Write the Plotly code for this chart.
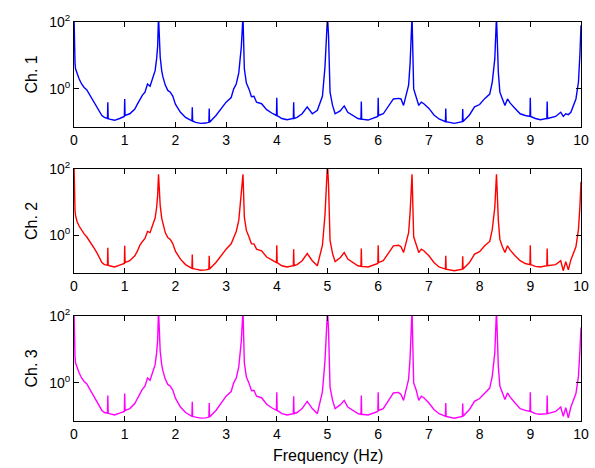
import plotly.graph_objects as go

# Frequency grid (Hz)
freq = [0.000, 0.005, 0.02, 0.03, 0.06, 0.10, 0.15, 0.20, 0.25, 0.30, 0.35, 0.40, 0.45, 0.50, 0.55,
        0.60, 0.660, 0.667, 0.674, 0.70, 0.80, 0.90, 0.993, 1.000, 1.007, 1.10, 1.20, 1.25, 1.30,
        1.35, 1.40, 1.45, 1.50, 1.55, 1.60, 1.63, 1.65, 1.667, 1.68, 1.70, 1.73, 1.75, 1.80, 1.85,
        1.90, 1.95, 2.00, 2.10, 2.20, 2.30, 2.326, 2.333, 2.340, 2.40, 2.50, 2.60, 2.660, 2.667,
        2.674, 2.80, 2.90, 3.00, 3.10, 3.15, 3.20, 3.25, 3.30, 3.333, 3.36, 3.40, 3.45, 3.50, 3.55,
        3.60, 3.70, 3.80, 3.90, 3.993, 4.000, 4.007, 4.10, 4.20, 4.326, 4.333, 4.340, 4.40, 4.50,
        4.60, 4.70, 4.80, 4.90, 4.95, 4.98, 5.00, 5.02, 5.05, 5.10, 5.15, 5.25, 5.33, 5.40, 5.50,
        5.60, 5.660, 5.667, 5.674, 5.80, 5.90, 5.993, 6.000, 6.007, 6.10, 6.20, 6.30, 6.40, 6.45,
        6.50, 6.55, 6.60, 6.63, 6.667, 6.70, 6.75, 6.80, 6.85, 6.90, 7.00, 7.10, 7.20, 7.326, 7.333,
        7.340, 7.50, 7.660, 7.667, 7.674, 7.80, 7.90, 8.00, 8.10, 8.20, 8.25, 8.30, 8.333, 8.37,
        8.40, 8.45, 8.50, 8.55, 8.60, 8.70, 8.80, 8.90, 8.993, 9.000, 9.007, 9.10, 9.20, 9.326,
        9.333, 9.340, 9.50, 9.60, 9.65, 9.70, 9.75, 9.80, 9.90, 9.95, 9.98, 10.00]

ch1 = [150, 15, 6, 4, 2.8, 2.0, 1.4, 1.1, 0.95, 0.7, 0.55, 0.4, 0.3, 0.2, 0.16,
       0.14, 0.13, 0.4, 0.13, 0.125, 0.115, 0.13, 0.15, 0.5, 0.16, 0.18, 0.25, 0.35, 0.5,
       0.65, 0.8, 1.4, 1.2, 2.0, 3.5, 8, 19, 150, 20, 9, 3.5, 2.4, 1.3, 0.9,
       0.8, 0.6, 0.35, 0.2, 0.14, 0.115, 0.11, 0.28, 0.11, 0.1, 0.093, 0.095, 0.1, 0.26,
       0.1, 0.16, 0.25, 0.4, 0.55, 1.0, 1.4, 3.0, 18, 150, 4, 1.5, 1.0, 0.58, 0.6,
       0.4, 0.36, 0.24, 0.19, 0.16, 0.54, 0.16, 0.13, 0.12, 0.13, 0.4, 0.13, 0.14, 0.18,
       0.29, 0.18, 0.23, 0.6, 4.5, 40, 150, 40, 0.8, 0.32, 0.18, 0.22, 0.31, 0.2, 0.16,
       0.13, 0.125, 0.42, 0.125, 0.117, 0.13, 0.15, 0.54, 0.16, 0.18, 0.29, 0.5, 0.52, 0.5,
       0.32, 0.6, 1.3, 6, 150, 1.0, 0.6, 0.32, 0.4, 0.36, 0.26, 0.166, 0.126, 0.105, 0.26,
       0.105, 0.093, 0.105, 0.25, 0.105, 0.166, 0.29, 0.34, 0.51, 0.7, 1.6, 8, 150, 3,
       0.8, 0.5, 0.32, 0.5, 0.38, 0.26, 0.18, 0.16, 0.15, 0.54, 0.15, 0.13, 0.12, 0.13,
       0.42, 0.13, 0.15, 0.2, 0.15, 0.18, 0.17, 0.2, 0.5, 1.6, 12, 80]

ch2 = [150, 14, 5.5, 4, 2.6, 1.9, 1.4, 1.1, 0.9, 0.7, 0.55, 0.4, 0.3, 0.2, 0.15,
       0.13, 0.125, 0.42, 0.125, 0.12, 0.11, 0.125, 0.14, 0.48, 0.15, 0.17, 0.24, 0.33, 0.5,
       0.65, 0.8, 1.3, 1.2, 2.0, 3.3, 7, 16, 69, 18, 8, 3.3, 2.3, 1.2, 0.85,
       0.75, 0.55, 0.33, 0.19, 0.13, 0.105, 0.1, 0.26, 0.1, 0.095, 0.088, 0.09, 0.095, 0.24,
       0.095, 0.15, 0.24, 0.38, 0.55, 0.9, 1.3, 2.8, 15, 69, 3.5, 1.4, 0.9, 0.55, 0.55,
       0.38, 0.34, 0.22, 0.18, 0.15, 0.5, 0.15, 0.12, 0.11, 0.12, 0.38, 0.12, 0.13, 0.17,
       0.28, 0.17, 0.12, 0.5, 4, 35, 150, 35, 0.7, 0.28, 0.16, 0.21, 0.3, 0.19, 0.15,
       0.12, 0.115, 0.4, 0.115, 0.11, 0.125, 0.14, 0.5, 0.15, 0.17, 0.28, 0.48, 0.5, 0.45,
       0.3, 0.55, 1.2, 5, 69, 0.9, 0.55, 0.3, 0.38, 0.34, 0.24, 0.15, 0.11, 0.095, 0.24,
       0.095, 0.085, 0.095, 0.23, 0.095, 0.15, 0.27, 0.32, 0.48, 0.65, 1.5, 7, 69, 2.8,
       0.75, 0.45, 0.3, 0.48, 0.36, 0.24, 0.17, 0.14, 0.13, 0.5, 0.13, 0.115, 0.11, 0.12,
       0.4, 0.12, 0.13, 0.17, 0.085, 0.16, 0.09, 0.18, 0.45, 1.5, 8, 41]

ch3 = [150, 15, 6, 4, 2.8, 2.0, 1.4, 1.1, 0.95, 0.7, 0.55, 0.4, 0.3, 0.2, 0.15,
       0.13, 0.125, 0.42, 0.125, 0.12, 0.11, 0.125, 0.14, 0.48, 0.15, 0.17, 0.24, 0.34, 0.5,
       0.65, 0.8, 1.4, 1.2, 2.0, 3.5, 8, 19, 150, 20, 9, 3.5, 2.4, 1.3, 0.9,
       0.8, 0.6, 0.35, 0.19, 0.13, 0.105, 0.1, 0.27, 0.1, 0.095, 0.088, 0.09, 0.095, 0.25,
       0.095, 0.15, 0.24, 0.4, 0.55, 1.0, 1.4, 3.0, 18, 150, 4, 1.5, 1.0, 0.58, 0.6,
       0.4, 0.36, 0.23, 0.18, 0.15, 0.52, 0.15, 0.12, 0.11, 0.12, 0.4, 0.12, 0.13, 0.17,
       0.28, 0.17, 0.12, 0.55, 4.5, 40, 150, 40, 0.75, 0.3, 0.17, 0.22, 0.3, 0.19, 0.15,
       0.12, 0.115, 0.42, 0.115, 0.11, 0.125, 0.14, 0.52, 0.15, 0.17, 0.28, 0.5, 0.52, 0.45,
       0.3, 0.6, 1.3, 6, 150, 1.0, 0.6, 0.3, 0.4, 0.36, 0.25, 0.16, 0.12, 0.1, 0.25,
       0.1, 0.088, 0.1, 0.24, 0.1, 0.16, 0.28, 0.34, 0.5, 0.7, 1.6, 8, 150, 3,
       0.8, 0.5, 0.32, 0.5, 0.38, 0.25, 0.17, 0.15, 0.14, 0.52, 0.14, 0.12, 0.115, 0.12,
       0.42, 0.12, 0.14, 0.19, 0.1, 0.18, 0.09, 0.19, 0.48, 1.6, 10, 45]

channels = [("Ch. 1", ch1, "#0000FF"), ("Ch. 2", ch2, "#FF0000"), ("Ch. 3", ch3, "#FF00FF")]
x_ticks = list(range(0, 11))
y_tickvals = [1, 100]
y_ticktext = ["10<sup>0</sup>", "10<sup>2</sup>"]

W, H = 595, 468
x_dom = [74 / W, 581 / W]
panels_px = [(22, 127), (169, 273), (316, 421)]

fig = go.Figure()
font = "Arial, Liberation Sans, sans-serif"

for i, (name, vals, color) in enumerate(channels):
    n = "" if i == 0 else str(i + 1)
    fig.add_trace(go.Scatter(x=freq, y=vals, mode="lines",
                             line=dict(color=color, width=1.4),
                             xaxis="x" + n, yaxis="y" + n, showlegend=False))
    top, bot = panels_px[i]
    ydom = [1 - bot / H, 1 - top / H]
    fig.layout["xaxis" + n] = dict(
        domain=x_dom, range=[0, 10], anchor="y" + n, automargin=False,
        tickvals=x_ticks, ticks="inside", ticklen=5, tickcolor="black",
        showline=True, linecolor="black", linewidth=1, mirror="ticks",
        showgrid=False, zeroline=False,
        tickfont=dict(family=font, size=14, color="black"))
    fig.layout["yaxis" + n] = dict(
        domain=ydom, type="log", range=[-1.14, 2], anchor="x" + n, automargin=False,
        tickvals=y_tickvals, ticktext=y_ticktext, ticks="inside", ticklen=5, tickcolor="black",
        showline=True, linecolor="black", linewidth=1, mirror="ticks",
        showgrid=False, zeroline=False,
        tickfont=dict(family=font, size=14, color="black"))
    fig.add_annotation(text=name, xref="paper", yref="paper",
                       x=31 / W, y=1 - (top + bot) / 2 / H, textangle=-90,
                       showarrow=False, xanchor="center", yanchor="middle",
                       font=dict(family=font, size=16, color="black"))

fig.add_annotation(text="Frequency (Hz)", xref="paper", yref="paper",
                   x=(74 + 581) / 2 / W, y=1 - 455 / H, showarrow=False,
                   xanchor="center", yanchor="middle",
                   font=dict(family=font, size=16, color="black"))

fig.update_layout(width=W, height=H,
                  margin=dict(l=0, r=0, t=0, b=0, pad=0, autoexpand=False),
                  paper_bgcolor="white", plot_bgcolor="white")

fig.write_html("out.html")
